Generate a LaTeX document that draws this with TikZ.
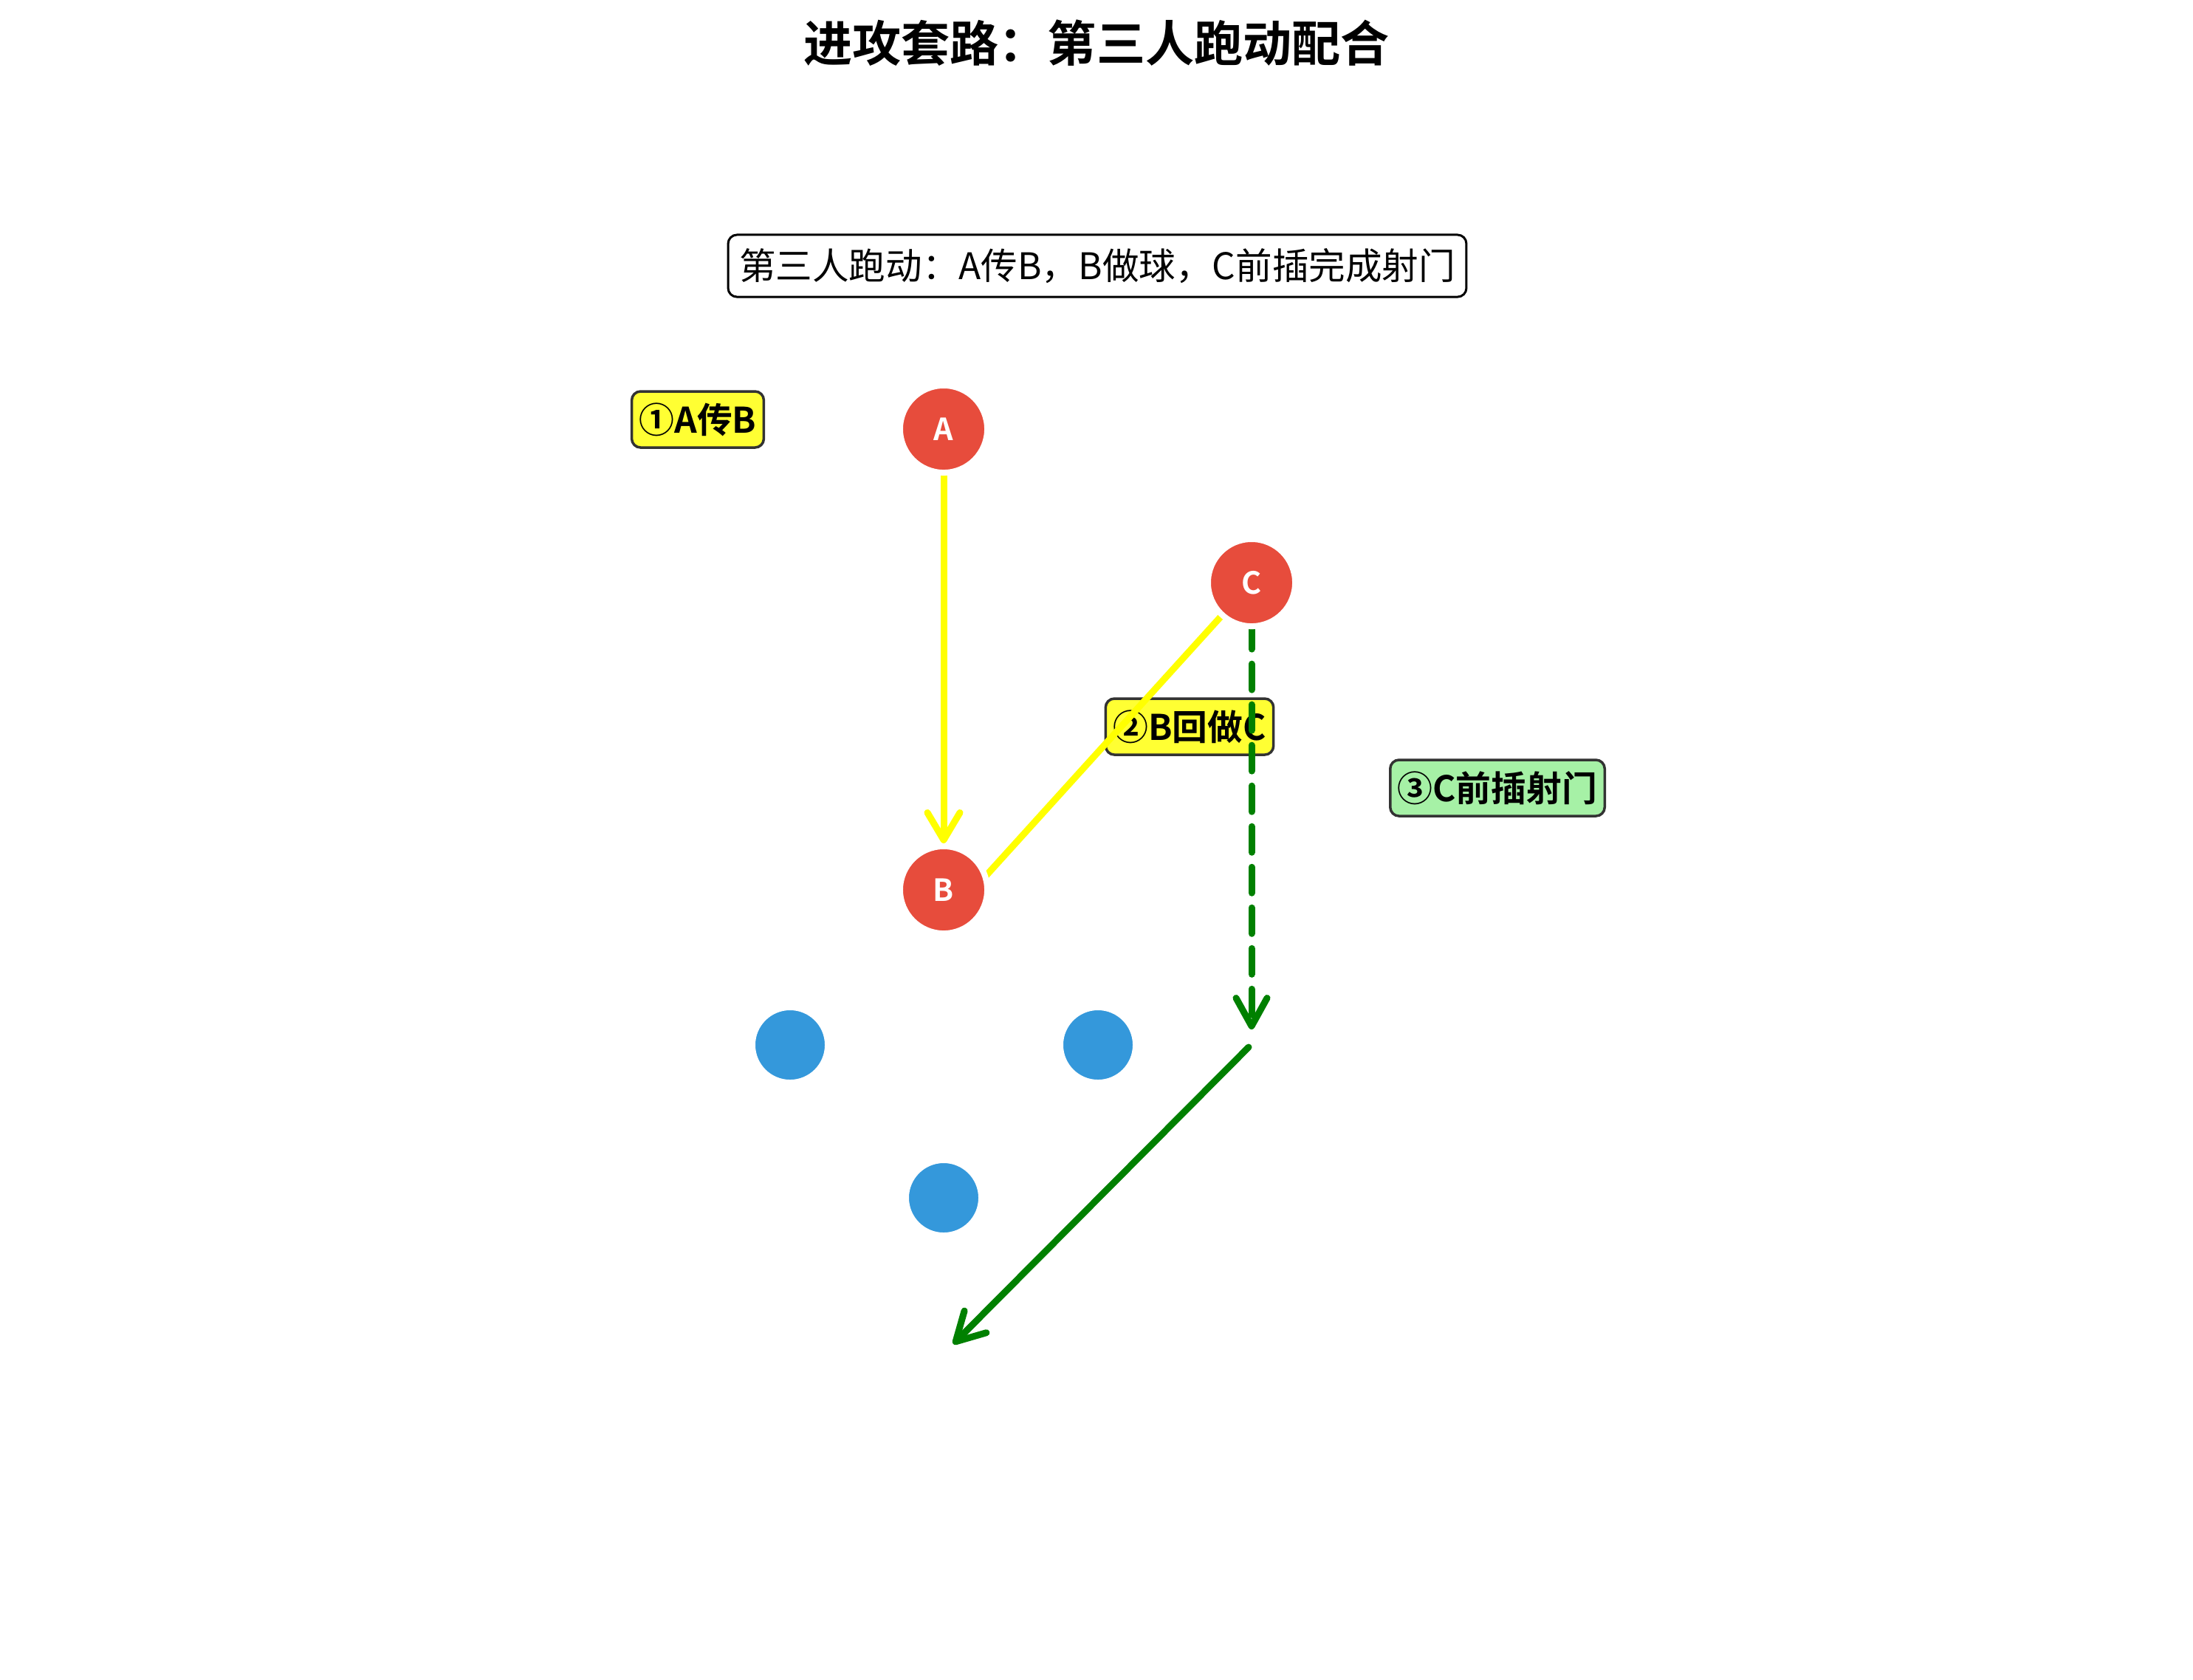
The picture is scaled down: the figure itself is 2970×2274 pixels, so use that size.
\documentclass[tikz,border=0pt]{standalone}
\usepackage{fontspec}
\setmainfont{Noto Sans CJK SC}[BoldFont={Noto Sans CJK SC Bold}]
\usetikzlibrary{arrows.meta}

\definecolor{playerred}{HTML}{E74C3C}
\definecolor{defblue}{HTML}{3498DB}
\definecolor{passyellow}{HTML}{FFFF00}
\definecolor{rungreen}{HTML}{008000}
\definecolor{tagyellow}{HTML}{FFFF33}
\definecolor{taggreen}{HTML}{A6F1A6}
\definecolor{tagedge}{HTML}{333333}

\pgfdeclarelayer{bg}
\pgfsetlayers{bg,main}

\tikzset{
  attacker/.style={circle, fill=playerred, draw=white, line width=0.08cm,
    minimum size=1.18cm, inner sep=0pt, text=white,
    font=\fontsize{11.75}{14}\selectfont\bfseries},
  defender/.style={circle, fill=defblue, draw=white, line width=0.08cm,
    minimum size=1.02cm, inner sep=0pt},
  steptag/.style={rounded corners=0.12cm, draw=tagedge, line width=0.035cm,
    inner xsep=0.1cm, inner ysep=0pt, minimum height=0.76cm,
    font=\fontsize{13.6}{16}\selectfont\bfseries},
  passline/.style={draw=passyellow, line width=0.09cm},
  passarrow/.style={passline, -{Straight Barb[length=0.37cm,width=0.44cm,round]}},
  runarrow/.style={draw=rungreen, line width=0.09cm, line cap=round,
    -{Straight Barb[length=0.38cm,width=0.42cm,round]}},
}

\begin{document}
\begin{tikzpicture}[x=0.01cm, y=-0.01cm]
  \useasboundingbox (0,0) rectangle (2970,2274);
  {\fontsize{14.1}{16}\selectfont

  % Title and caption
  \node (title) at (1485,58) {\fontsize{18.8}{22}\selectfont\bfseries 进攻套路：第三人跑动配合};
  \node [draw=black, line width=0.03cm, rounded corners=0.12cm, fill=white,
    inner xsep=0.15cm, inner ysep=0pt, minimum height=0.84cm] (caption) at (1486,360)
    {第三人跑动：A传B，B做球，C前插完成射门};

  % Attacking players
  \node [attacker] (A) at (1278,581) {A};
  \node [attacker] (C) at (1695,789) {C};
  \node [attacker] (B) at (1278,1205) {B};

  % Defending players
  \node [defender] (d1) at (1070,1415) {};
  \node [defender] (d2) at (1487,1415) {};
  \node [defender] (d3) at (1278,1622) {};

  % Free ends of the moves
  \coordinate (bset) at (1318,1205);
  \coordinate (runend) at (1695,1394);
  \coordinate (shotstart) at (1691,1418);
  \coordinate (shotend) at (1291,1820);

  \begin{pgfonlayer}{bg}
  % Step labels
  \node [steptag, fill=tagyellow] (step1) at (945,568) {①A传B};
  \node [steptag, fill=tagyellow] (step2) at (1611,984) {②B回做C};
  \node [steptag, fill=taggreen] (step3) at (2028,1067) {③C前插射门};

  % Drawing pass A B
  \draw [passarrow] (A) -- (B);%

  % Drawing lay-off B C
  \draw [passline] (bset) -- (C.center);%

  % Drawing run of C
  \draw [runarrow, dash pattern=on 0.35cm off 0.2cm] (C.center) -- (runend);%

  % Drawing shot
  \draw [runarrow] (shotstart) -- (shotend);%
  \end{pgfonlayer}
  }
\end{tikzpicture}
\end{document}
